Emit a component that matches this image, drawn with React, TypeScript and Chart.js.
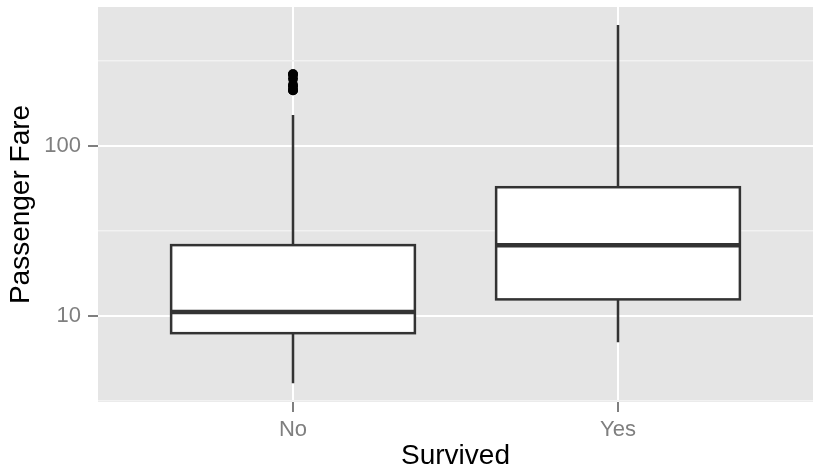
import React, { useEffect, useRef } from "react";
import { Chart, registerables } from "chart.js";

Chart.register(...registerables);

const categories = ["No", "Yes"];
const lowerWhisker = [4.0125, 6.975];
const q1 = [7.8958, 12.475];
const median = [10.5, 26];
const q3 = [26, 56.9458];
const upperWhisker = [151.55, 512.3292];
const outliersNo = [211.3375, 211.5, 221.7792, 227.525, 247.5208, 262.375, 263];
const outliersYes: number[] = [];
const yMajorTicks = [10, 100];
const yMinorTicks = [3.1623, 31.623, 316.23];
const yMin = 3.11;
const yMax = 653;

const FONT = "'Liberation Sans', Arial, Helvetica, sans-serif";

const boxPlugin = {
  id: "boxes",
  beforeDraw(chart: any) {
    const { ctx, chartArea } = chart;
    ctx.save();
    ctx.fillStyle = "#E5E5E5";
    ctx.fillRect(chartArea.left, chartArea.top, chartArea.right - chartArea.left, chartArea.bottom - chartArea.top);
    ctx.restore();
  },
  beforeDatasetsDraw(chart: any) {
    const { ctx } = chart;
    const xs = chart.scales.x;
    const ys = chart.scales.y;
    ctx.save();
    ctx.strokeStyle = "#333333";
    categories.forEach((_, i) => {
      const pos = i + 1;
      const cx = xs.getPixelForValue(pos);
      const l = xs.getPixelForValue(pos - 0.375);
      const r = xs.getPixelForValue(pos + 0.375);
      const yq1 = ys.getPixelForValue(q1[i]);
      const yq3 = ys.getPixelForValue(q3[i]);
      const ymed = ys.getPixelForValue(median[i]);
      const ylo = ys.getPixelForValue(lowerWhisker[i]);
      const yhi = ys.getPixelForValue(upperWhisker[i]);
      ctx.lineWidth = 2.5;
      ctx.beginPath();
      ctx.moveTo(cx, yq3);
      ctx.lineTo(cx, yhi);
      ctx.moveTo(cx, yq1);
      ctx.lineTo(cx, ylo);
      ctx.stroke();
      ctx.fillStyle = "#FFFFFF";
      ctx.fillRect(l, yq3, r - l, yq1 - yq3);
      ctx.strokeRect(l, yq3, r - l, yq1 - yq3);
      ctx.lineWidth = 4.5;
      ctx.beginPath();
      ctx.moveTo(l, ymed);
      ctx.lineTo(r, ymed);
      ctx.stroke();
    });
    ctx.restore();
  },
};

const isMajor = (v: number) => yMajorTicks.some((m) => Math.abs(m - v) < 1e-6);

export default function App() {
  const ref = useRef<HTMLCanvasElement | null>(null);
  useEffect(() => {
    document.body.style.margin = "0";
    const outlierData = [
      ...outliersNo.map((v) => ({ x: 1, y: v })),
      ...outliersYes.map((v) => ({ x: 2, y: v })),
    ];
    const chart = new Chart(ref.current as HTMLCanvasElement, {
      type: "scatter",
      data: {
        datasets: [
          {
            data: outlierData,
            pointRadius: 5,
            pointBackgroundColor: "#000000",
            pointBorderWidth: 0,
            borderWidth: 0,
          },
        ],
      },
      plugins: [boxPlugin],
      options: {
        animation: false,
        responsive: false,
        devicePixelRatio: 1,
        layout: { autoPadding: false, padding: { top: 7, right: 0, left: 0, bottom: 0 } },
        plugins: { legend: { display: false }, tooltip: { enabled: false } },
        scales: {
          x: {
            type: "linear",
            min: 0.4,
            max: 2.6,
            afterBuildTicks: (scale: any) => {
              scale.ticks = categories.map((_, i) => ({ value: i + 1 }));
            },
            afterFit: (scale: any) => {
              scale.height = 65;
              scale.paddingLeft = 0;
              scale.paddingRight = 0;
            },
            ticks: {
              callback: (v: any) => categories[Number(v) - 1] ?? "",
              color: "#7F7F7F",
              font: { family: FONT, size: 22 },
              padding: 5,
              maxRotation: 0,
              autoSkip: false,
            },
            grid: {
              color: "#FFFFFF",
              lineWidth: 2,
              tickColor: "#7F7F7F",
              tickLength: 10,
              tickWidth: 2,
            },
            border: { display: false },
            title: {
              display: true,
              text: "Survived",
              color: "#000000",
              font: { family: FONT, size: 28, lineHeight: 1 },
              padding: { top: 0, bottom: -3 },
            },
          },
          y: {
            type: "logarithmic",
            min: yMin,
            max: yMax,
            afterBuildTicks: (scale: any) => {
              scale.ticks = [...yMinorTicks, ...yMajorTicks]
                .sort((a, b) => a - b)
                .map((v) => ({ value: v, major: isMajor(v) }));
            },
            afterFit: (scale: any) => {
              scale.width = 98;
              scale.paddingTop = 0;
              scale.paddingBottom = 0;
            },
            ticks: {
              callback: (v: any) => (isMajor(Number(v)) ? String(v) : ""),
              color: "#7F7F7F",
              font: { family: FONT, size: 22 },
              padding: 7,
              autoSkip: false,
            },
            grid: {
              color: (c: any) => (c.tick && isMajor(c.tick.value) ? "#FFFFFF" : "#F2F2F2"),
              lineWidth: (c: any) => (c.tick && isMajor(c.tick.value) ? 2 : 1.5),
              tickColor: (c: any) => (c.tick && isMajor(c.tick.value) ? "#7F7F7F" : "rgba(0,0,0,0)"),
              tickLength: 10,
              tickWidth: 2,
            },
            border: { display: false },
            title: {
              display: true,
              text: "Passenger Fare",
              color: "#000000",
              font: { family: FONT, size: 28 },
              padding: { top: 4, bottom: 0 },
            },
          },
        },
      } as any,
    });
    return () => chart.destroy();
  }, []);
  return (
    <div style={{ position: "absolute", left: 0, top: 0, width: 813, height: 467 }}>
      <canvas ref={ref} width={813} height={467} />
    </div>
  );
}
